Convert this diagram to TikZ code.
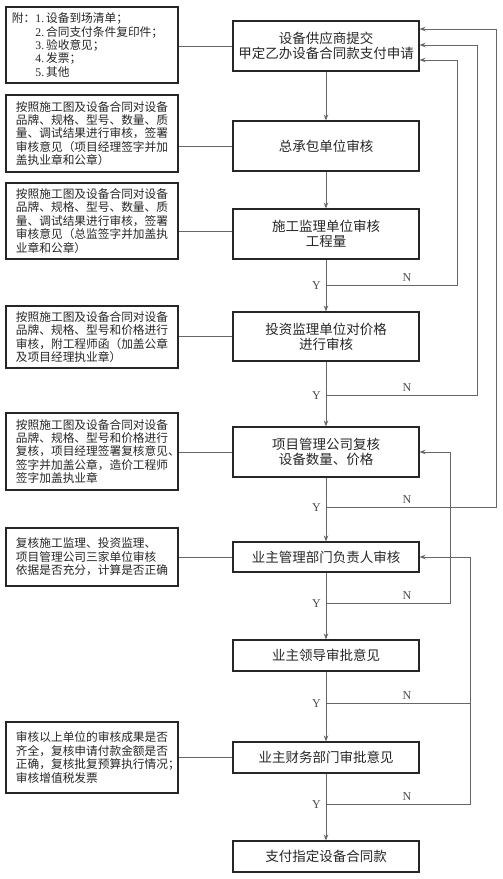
\documentclass[tikz,border=0pt]{standalone}
\usepackage{fontspec}
\setmainfont{Liberation Serif}
\newfontfamily\cjk{Noto Sans CJK SC}
\newfontfamily\lat{Liberation Serif}
\usetikzlibrary{arrows.meta}
\begin{document}
\begin{tikzpicture}[x=1pt,y=-1pt,
  mainbox/.style={draw=black!85,line width=1.1pt,minimum width=186pt,inner sep=0pt,
    font=\cjk\fontsize{13.5}{14.7}\selectfont,align=center,text=black!85},
  notebox/.style={draw=black!85,line width=1.1pt,text width=152pt,inner xsep=10pt,inner ysep=0pt,
    font=\cjk\fontsize{11.7}{13.4}\selectfont,align=left,text=black!85},
  flow/.style={draw=black!60,line width=0.8pt},
  arr/.style={flow,-{Stealth[length=6pt,width=4.5pt]}},
  lab/.style={font=\lat\fontsize{12}{12}\selectfont,text=black!70,inner sep=0pt}]
\useasboundingbox (0,0) rectangle (503,879);
% main boxes
\node[mainbox,minimum height=50pt] (m1) at (326,46) {设备供应商提交\\甲定乙办设备合同款支付申请};
\node[mainbox,minimum height=50pt] (m2) at (326,146) {总承包单位审核};
\node[mainbox,minimum height=50pt] (m3) at (326,234) {施工监理单位审核\\工程量};
\node[mainbox,minimum height=49pt] (m4) at (326,336.5) {投资监理单位对价格\\进行审核};
\node[mainbox,minimum height=50pt] (m5) at (326,452) {项目管理公司复核\\设备数量、价格};
\node[mainbox,minimum height=30pt] (m6) at (326,557) {业主管理部门负责人审核};
\node[mainbox,minimum height=31pt] (m7) at (326,655.5) {业主领导审批意见};
\node[mainbox,minimum height=31pt] (m8) at (326,757.5) {业主财务部门审批意见};
\node[mainbox,minimum height=31pt] (m9) at (326,856.5) {支付指定设备合同款};
% note boxes
\node[notebox,text width=160pt,inner xsep=6pt,minimum height=76pt] (n1) at (92,45) {\mbox{附：{\lat 1.}\,设备到场清单；}\\\mbox{\hspace*{2em}{\lat 2.}\,合同支付条件复印件；}\\\mbox{\hspace*{2em}{\lat 3.}\,验收意见；}\\\mbox{\hspace*{2em}{\lat 4.}\,发票；}\\\mbox{\hspace*{2em}{\lat 5.}\,其他}};
\node[notebox,minimum height=77pt] (n2) at (92,133.5) {按照施工图及设备合同对设备\\品牌、规格、型号、数量、质\\量、调试结果进行审核，签署\\审核意见（项目经理签字并加\\盖执业章和公章）};
\node[notebox,minimum height=76pt] (n3) at (92,221) {按照施工图及设备合同对设备\\品牌、规格、型号、数量、质\\量、调试结果进行审核，签署\\审核意见（总监签字并加盖执\\业章和公章）};
\node[notebox,minimum height=62pt] (n4) at (92,337) {按照施工图及设备合同对设备\\品牌、规格、型号和价格进行\\审核，附工程师函（加盖公章\\及项目经理执业章）};
\node[notebox,minimum height=77pt] (n5) at (92,451.5) {按照施工图及设备合同对设备\\品牌、规格、型号和价格进行\\复核，项目经理签署复核意见、\\签字并加盖公章，造价工程师\\签字加盖执业章};
\node[notebox,minimum height=58pt] (n6) at (92,557) {复核施工监理、投资监理、\\项目管理公司三家单位审核\\依据是否充分，计算是否正确};
\node[notebox,minimum height=71pt] (n7) at (92,757.5) {审核以上单位的审核成果是否\\齐全，复核申请付款金额是否\\正确，复核批复预算执行情况；\\审核增值税发票};
% connectors note -> main
\coordinate (c3) at (0,231);
\draw[flow] (n1.east |- m1.west) -- (m1.west);
\draw[flow] (n2.east |- m2.west) -- (m2.west);
\draw[flow] (n3.east |- c3) -- (m3.west |- c3);
\draw[flow] (n4.east |- m4.west) -- (m4.west);
\draw[flow] (n5.east |- m5.west) -- (m5.west);
\draw[flow] (n6.east |- m6.west) -- (m6.west);
\draw[flow] (n7.east |- m8.west) -- (m8.west);
% junctions
\coordinate (j3) at (326,285);
\coordinate (j4) at (326,395);
\coordinate (j5) at (326,507);
\coordinate (j6) at (326,603);
\coordinate (j7) at (326,703);
\coordinate (j8) at (326,804);
% rails
\coordinate (r1) at (457,0);
\coordinate (r2) at (477,0);
\coordinate (r3) at (496,0);
\coordinate (r4) at (450,0);
\coordinate (r5) at (470,0);
\coordinate (t1) at (0,60);
\coordinate (t2) at (0,45);
\coordinate (t3) at (0,29);
% main flow
\draw[arr] (m1) -- (m2);
\draw[arr] (m2) -- (m3);
\draw[arr] (m3) -- (m4);
\draw[arr] (m4) -- (m5);
\draw[arr] (m5) -- (m6);
\draw[arr] (m6) -- (m7);
\draw[arr] (m7) -- (m8);
\draw[arr] (m8) -- (m9);
% feedback loops
\draw[arr] (j3) -- (r1 |- j3) -- (r1 |- t1) -- (m1.east |- t1);
\draw[arr] (j4) -- (r2 |- j4) -- (r2 |- t2) -- (m1.east |- t2);
\draw[arr] (j5) -- (r3 |- j5) -- (r3 |- t3) -- (m1.east |- t3);
\draw[arr] (j6) -- (r4 |- j6) -- (r4 |- m5.east) -- (m5.east);
\draw[arr] (j7) -- (r5 |- j7) -- (r5 |- m6.east) -- (m6.east);
\draw[flow] (j8) -- (r5 |- j8) -- (r5 |- j7);
% labels
\foreach \j in {j3,j4,j5,j6,j7,j8}{
  \node[lab,anchor=east] (y\j) at ([xshift=-5pt,yshift=-1pt]\j) {Y};
  \node[lab,anchor=south] (n\j) at ([xshift=81pt,yshift=3pt]\j) {N};
}
\end{tikzpicture}
\end{document}
